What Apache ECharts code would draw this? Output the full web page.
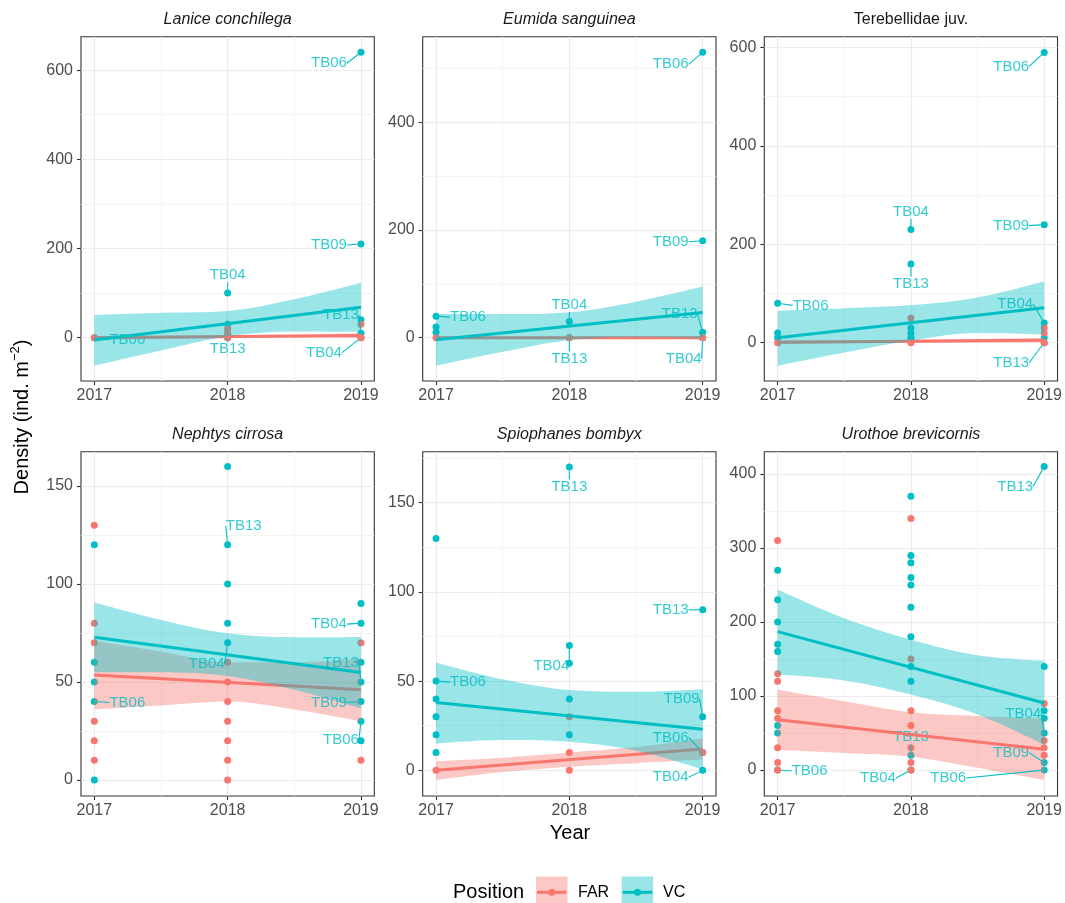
<!DOCTYPE html>
<html><head><meta charset="utf-8">
<script src="https://cdn.jsdelivr.net/npm/echarts@6/dist/echarts.min.js"></script>
<style>html,body{margin:0;padding:0;background:#fff}#chart{width:1065px;height:903px}</style>
</head><body><div id="chart"></div>
<script>
// ---------- data ----------
const years = [2017, 2018, 2019];
const bandYears = [2017, 2017.5, 2018, 2018.5, 2019];
const fitYears = [2017, 2019];
const xMajorTicks = [2017, 2018, 2019];
const xMinorTicks = [2017.5, 2018.5];
const positions = ['FAR', 'VC'];

// Lanice conchilega
const laniceFar = [[0], [20, 10, 0], [30, 0]];
const laniceVc = [[0], [100, 30, 10, 0], [640, 210, 40, 10, 0]];
const laniceLabels = [[2017, 0, 'TB06'], [2018, 100, 'TB04'], [2018, 10, 'TB13'], [2019, 640, 'TB06'], [2019, 210, 'TB09'], [2019, 10, 'TB13'], [2019, 0, 'TB04']];
const laniceFarFit = [0, 5];
const laniceVcFit = [-5, 68];
const laniceFarLow = [-4, -2, -0.5, 0.5, 0];
const laniceFarHigh = [4, 4.5, 5.5, 7, 10];
const laniceVcLow = [-63, -29, 3, 14, 13];
const laniceVcHigh = [51, 56, 60, 86, 123];
const laniceTicks = [0, 200, 400, 600];
const laniceMinorTicks = [100, 300, 500];

// Eumida sanguinea
const eumidaFar = [[0], [0], [0]];
const eumidaVc = [[40, 20, 10], [30, 0], [530, 180, 10, 0]];
const eumidaLabels = [[2017, 40, 'TB06'], [2018, 30, 'TB04'], [2018, 0, 'TB13'], [2019, 530, 'TB06'], [2019, 180, 'TB09'], [2019, 10, 'TB13'], [2019, 0, 'TB04']];
const eumidaFarFit = [0, 0];
const eumidaVcFit = [-4, 47];
const eumidaFarLow = [-2, -2, -2, -2, -2];
const eumidaFarHigh = [2, 2, 2, 2, 2];
const eumidaVcLow = [-52, -26, -4.5, 1, -1];
const eumidaVcHigh = [44, 44, 47.5, 67, 95];
const eumidaTicks = [0, 200, 400];
const eumidaMinorTicks = [100, 300, 500];

// Terebellidae juv.
const terebFar = [[0], [50, 0], [30, 20, 0]];
const terebVc = [[80, 20, 10], [230, 160, 30, 20, 10], [590, 240, 40, 10, 0]];
const terebLabels = [[2017, 80, 'TB06'], [2018, 230, 'TB04'], [2018, 160, 'TB13'], [2019, 590, 'TB06'], [2019, 240, 'TB09'], [2019, 40, 'TB04'], [2019, 0, 'TB13']];
const terebFarFit = [1, 5];
const terebVcFit = [10, 71];
const terebFarLow = [-3, -1, 0, 1, 1];
const terebFarHigh = [5, 5, 6, 8, 9];
const terebVcLow = [-47, -20, 4.5, 20, 17];
const terebVcHigh = [65, 70, 76.5, 92, 125];
const terebTicks = [0, 200, 400, 600];
const terebMinorTicks = [100, 300, 500];

// Nephtys cirrosa
const nephFar = [[130, 80, 70, 30, 20, 10], [60, 50, 40, 30, 20, 10, 0], [70, 10]];
const nephVc = [[120, 60, 50, 40, 0], [160, 120, 100, 80, 70], [90, 80, 60, 50, 40, 30, 20]];
const nephLabels = [[2017, 40, 'TB06'], [2018, 120, 'TB13'], [2018, 70, 'TB04'], [2019, 80, 'TB04'], [2019, 50, 'TB13'], [2019, 40, 'TB09'], [2019, 30, 'TB06']];
const nephFarFit = [53.6, 46];
const nephVcFit = [72.8, 54.8];
const nephFarLow = [36, 38, 40, 36, 30];
const nephFarHigh = [71, 65.5, 60, 60, 62];
const nephVcLow = [55, 55, 53, 46, 36.5];
const nephVcHigh = [90.5, 81.6, 74.8, 72.8, 73];
const nephTicks = [0, 50, 100, 150];
const nephMinorTicks = [25, 75, 125];

// Spiophanes bombyx
const spioFar = [[0], [30, 10, 0], [10]];
const spioVc = [[130, 50, 40, 30, 20, 10], [170, 70, 60, 40, 20], [90, 30, 10, 0]];
const spioLabels = [[2017, 50, 'TB06'], [2018, 170, 'TB13'], [2018, 70, 'TB04'], [2019, 90, 'TB13'], [2019, 30, 'TB09'], [2019, 10, 'TB06'], [2019, 0, 'TB04']];
const spioFarFit = [0, 12];
const spioVcFit = [38, 23];
const spioFarLow = [-5.5, -1, 2, 4, 6];
const spioFarHigh = [5, 7, 10, 13, 18];
const spioVcLow = [15, 17, 16, 11, 0.5];
const spioVcHigh = [60.5, 51, 45, 44, 45.5];
const spioTicks = [0, 50, 100, 150];
const spioMinorTicks = [25, 75, 125, 175];

// Urothoe brevicornis
const uroFar = [[310, 130, 120, 80, 70, 30, 10, 0], [340, 150, 80, 60, 30, 10, 0], [90, 40, 30, 20]];
const uroVc = [[270, 230, 200, 170, 160, 60, 50, 0], [370, 290, 280, 260, 250, 220, 180, 140, 120, 20, 0], [410, 140, 80, 70, 50, 10, 0]];
const uroLabels = [[2017, 0, 'TB06'], [2018, 20, 'TB13'], [2018, 0, 'TB04'], [2019, 410, 'TB13'], [2019, 50, 'TB04'], [2019, 10, 'TB09'], [2019, 0, 'TB06']];
const uroFarFit = [68, 28];
const uroVcFit = [187, 90.5];
const uroFarLow = [27, 23, 18, 3, -13.5];
const uroFarHigh = [108.5, 93, 78, 73, 69.5];
const uroVcLow = [129, 121, 102, 75, 34];
const uroVcHigh = [244, 205, 176, 155, 147.5];
const uroTicks = [0, 100, 200, 300, 400];
const uroMinorTicks = [50, 150, 250, 350];

// ---------- layout (label offsets in px, kept apart from the data) ----------
const labelOffsets = [
  [[33, 2], [0, -18], [0, 16], [-32, 11], [-32, 1], [-20, -18], [-37, 15]],
  [[32, 1], [0, -17], [0, 21], [-32, 12], [-32, 1], [-23, -18], [-19, 21]],
  [[33, 2], [0, -18], [0, 20], [-33, 14], [-33, 1], [-29, -19], [-33, 20]],
  [[33, 1], [16, -19], [-21, 21], [-32, 1], [-20, -19], [-32, 1], [-20, 19]],
  [[32, 1], [0, 20], [-18, 20], [-32, 0], [-21, -18], [-32, -15], [-32, 7]],
  [[32, 1], [0, -18], [-33, 8], [-29, 20], [-21, -19], [-33, -10], [-96, 8]]
];

const panels = [
  {title: 'Lanice conchilega', italic: true, far: laniceFar, vc: laniceVc, labels: laniceLabels, farFit: laniceFarFit, vcFit: laniceVcFit, farLow: laniceFarLow, farHigh: laniceFarHigh, vcLow: laniceVcLow, vcHigh: laniceVcHigh, ticks: laniceTicks, minor: laniceMinorTicks, yMin: -97.2, yMax: 675},
  {title: 'Eumida sanguinea', italic: true, far: eumidaFar, vc: eumidaVc, labels: eumidaLabels, farFit: eumidaFarFit, vcFit: eumidaVcFit, farLow: eumidaFarLow, farHigh: eumidaFarHigh, vcLow: eumidaVcLow, vcHigh: eumidaVcHigh, ticks: eumidaTicks, minor: eumidaMinorTicks, yMin: -80.4, yMax: 559},
  {title: 'Terebellidae juv.', italic: false, far: terebFar, vc: terebVc, labels: terebLabels, farFit: terebFarFit, vcFit: terebVcFit, farLow: terebFarLow, farHigh: terebFarHigh, vcLow: terebVcLow, vcHigh: terebVcHigh, ticks: terebTicks, minor: terebMinorTicks, yMin: -77.8, yMax: 622},
  {title: 'Nephtys cirrosa', italic: true, far: nephFar, vc: nephVc, labels: nephLabels, farFit: nephFarFit, vcFit: nephVcFit, farLow: nephFarLow, farHigh: nephFarHigh, vcLow: nephVcLow, vcHigh: nephVcHigh, ticks: nephTicks, minor: nephMinorTicks, yMin: -8.2, yMax: 167.5},
  {title: 'Spiophanes bombyx', italic: true, far: spioFar, vc: spioVc, labels: spioLabels, farFit: spioFarFit, vcFit: spioVcFit, farLow: spioFarLow, farHigh: spioFarHigh, vcLow: spioVcLow, vcHigh: spioVcHigh, ticks: spioTicks, minor: spioMinorTicks, yMin: -14.4, yMax: 178.6},
  {title: 'Urothoe brevicornis', italic: true, far: uroFar, vc: uroVc, labels: uroLabels, farFit: uroFarFit, vcFit: uroVcFit, farLow: uroFarLow, farHigh: uroFarHigh, vcLow: uroVcLow, vcHigh: uroVcHigh, ticks: uroTicks, minor: uroMinorTicks, yMin: -35.1, yMax: 430.1}
];

const FONT = "'Liberation Sans', Arial, Helvetica, sans-serif";
const RED = '#F8766D', TEAL = '#00BFC4';
const colLefts = [81, 422.7, 764.3], rowTops = [36.7, 451.7];
const PW = 293.3, PH = 344.3;

function toPoints(perYear) {
  const out = [];
  perYear.forEach((vals, k) => vals.forEach(v => out.push([years[k], v])));
  return out;
}

const labelPanelBySeries = {};
function labelLayoutFn(params) {
  const pi = labelPanelBySeries[params.seriesIndex];
  if (pi === undefined) return {};
  const o = labelOffsets[pi][params.dataIndex];
  if (!o) return {};
  const r = params.rect;
  return {x: r.x + r.width / 2 + o[0], y: r.y + r.height / 2 + o[1], align: 'center', verticalAlign: 'middle'};
}

const grid = [], xAxis = [], yAxis = [], series = [], title = [];

function addBand(axes, low, high, color, z, stack) {
  series.push({type: 'line', ...axes, z: z, stack: stack, stackStrategy: 'all', silent: true,
    data: bandYears.map((x, k) => [low[k], x]), encode: {x: 1, y: 0},
    symbol: 'none', smooth: 0.35, lineStyle: {opacity: 0}});
  series.push({type: 'line', ...axes, z: z, stack: stack, stackStrategy: 'all', silent: true,
    data: bandYears.map((x, k) => [high[k] - low[k], x]), encode: {x: 1, y: 0},
    symbol: 'none', smooth: 0.35, lineStyle: {opacity: 0}, areaStyle: {color: color, opacity: 0.4}});
}

panels.forEach((p, i) => {
  const col = i % 3, row = Math.floor(i / 3);
  const left = colLefts[col], top = rowTops[row];
  grid.push({left: left, top: top, width: PW, height: PH, show: true, borderColor: '#333333', borderWidth: 1.1, backgroundColor: 'transparent'});
  title.push({text: p.title, left: left + PW / 2, top: top - 27.4, textAlign: 'center', padding: 0,
    textStyle: {fontSize: 16, fontFamily: FONT, fontStyle: p.italic ? 'italic' : 'normal', fontWeight: 'normal', color: '#1A1A1A', lineHeight: 20}});
  const fmt = v => String(v);
  xAxis.push({gridIndex: i, type: 'value', min: 2016.9, max: 2019.1, position: 'bottom',
    axisLine: {show: false, onZero: false},
    axisTick: {show: true, length: 4, customValues: xMajorTicks, lineStyle: {color: '#333333', width: 1.1}},
    axisLabel: {show: true, customValues: xMajorTicks, formatter: fmt, color: '#4D4D4D', fontSize: 16, fontFamily: FONT, margin: 7},
    splitLine: {show: true, lineStyle: {color: '#EBEBEB', width: 1.2}}});
  xAxis.push({gridIndex: i, type: 'value', min: 2016.9, max: 2019.1, position: 'bottom',
    axisLine: {show: false, onZero: false}, axisTick: {show: false, customValues: xMinorTicks},
    axisLabel: {show: false, customValues: xMinorTicks},
    splitLine: {show: true, lineStyle: {color: '#F3F3F3', width: 0.9}}});
  yAxis.push({gridIndex: i, type: 'value', min: p.yMin, max: p.yMax, position: 'left',
    axisLine: {show: false, onZero: false},
    axisTick: {show: true, length: 4, customValues: p.ticks, lineStyle: {color: '#333333', width: 1.1}},
    axisLabel: {show: true, customValues: p.ticks, formatter: fmt, color: '#4D4D4D', fontSize: 16, fontFamily: FONT, margin: 8},
    splitLine: {show: true, lineStyle: {color: '#EBEBEB', width: 1.2}}});
  yAxis.push({gridIndex: i, type: 'value', min: p.yMin, max: p.yMax, position: 'left',
    axisLine: {show: false, onZero: false}, axisTick: {show: false, customValues: p.minor},
    axisLabel: {show: false, customValues: p.minor},
    splitLine: {show: true, lineStyle: {color: '#F3F3F3', width: 0.9}}});

  const axes = {xAxisIndex: 2 * i, yAxisIndex: 2 * i};
  // points (drawn first, below the ribbons)
  series.push({type: 'scatter', name: 'VC', ...axes, z: 2, silent: true, symbolSize: 7,
    itemStyle: {color: TEAL, opacity: 1}, data: toPoints(p.vc)});
  series.push({type: 'scatter', name: 'FAR', ...axes, z: 2, silent: true, symbolSize: 7,
    itemStyle: {color: RED, opacity: 1}, data: toPoints(p.far)});
  // FAR ribbon
  addBand(axes, p.farLow, p.farHigh, RED, 3, 'farBand' + i);
  // station labels of VC points (above the FAR ribbon)
  labelPanelBySeries[series.length] = i;
  series.push({type: 'scatter', name: 'VC labels', ...axes, z: 4, silent: true, symbolSize: 7,
    itemStyle: {color: 'rgba(0,0,0,0)'},
    data: p.labels.map(lb => ({value: [lb[0], lb[1]], name: lb[2]})),
    label: {show: true, position: 'inside', formatter: '{b}', color: TEAL, fontSize: 15, fontFamily: FONT},
    labelLine: {show: true, length2: 0, lineStyle: {color: TEAL, width: 1.1}},
    labelLayout: labelLayoutFn});
  // fits
  series.push({type: 'line', ...axes, z: 5, silent: true, symbol: 'none',
    data: fitYears.map((x, k) => [x, p.farFit[k]]), lineStyle: {color: RED, width: 3}});
  addBand(axes, p.vcLow, p.vcHigh, TEAL, 6, 'vcBand' + i);
  series.push({type: 'line', ...axes, z: 7, silent: true, symbol: 'none',
    data: fitYears.map((x, k) => [x, p.vcFit[k]]), lineStyle: {color: TEAL, width: 3}});
});

const legendY = 892.3;
function legendKey(x, color, label, textX) {
  return [
    {type: 'rect', shape: {x: x, y: legendY - 15.7, width: 31.5, height: 31.5}, style: {fill: color, opacity: 0.4}},
    {type: 'line', shape: {x1: x + 1, y1: legendY, x2: x + 30.5, y2: legendY}, style: {stroke: color, lineWidth: 3}},
    {type: 'circle', shape: {cx: x + 15.75, cy: legendY, r: 3.5}, style: {fill: color}},
    {type: 'text', x: textX, y: legendY, style: {text: label, fontSize: 16, fontFamily: FONT, fill: '#000', verticalAlign: 'middle', align: 'left'}}
  ];
}

const graphic = [
  {type: 'text', x: 22, y: 417, rotation: Math.PI / 2,
    style: {text: '{a|Density (ind. m}{s|−2}{a|)}', align: 'center', verticalAlign: 'middle',
      rich: {a: {fontSize: 20, fontFamily: FONT, fill: '#000', lineHeight: 26},
             s: {fontSize: 13, fontFamily: FONT, fill: '#000', lineHeight: 14, verticalAlign: 'top'}}}},
  {type: 'text', x: 570, y: 833, style: {text: 'Year', fontSize: 20, fontFamily: FONT, fill: '#000', align: 'center', verticalAlign: 'middle'}},
  {type: 'text', x: 453, y: legendY, style: {text: 'Position', fontSize: 20, fontFamily: FONT, fill: '#000', align: 'left', verticalAlign: 'middle'}},
  ...legendKey(536, RED, positions[0], 578),
  ...legendKey(621.7, TEAL, positions[1], 663)
];

const chart = echarts.init(document.getElementById('chart'), null, {renderer: 'canvas', width: 1065, height: 903});
chart.setOption({
  animation: false,
  backgroundColor: '#ffffff',
  title: title,
  grid: grid,
  xAxis: xAxis,
  yAxis: yAxis,
  series: series,
  graphic: graphic
});
</script>
</body></html>
